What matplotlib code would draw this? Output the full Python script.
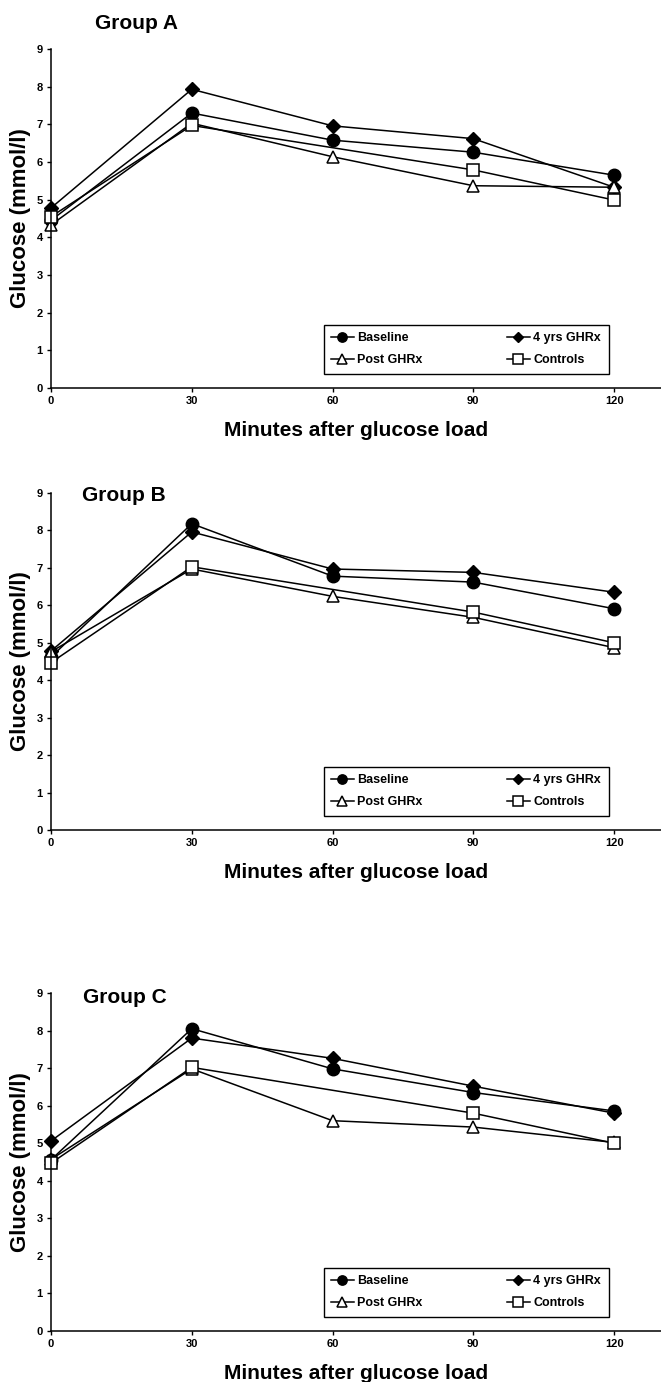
import matplotlib
matplotlib.use("Agg")
import matplotlib.pyplot as plt

plt.rcParams['font.family'] = ['Liberation Sans', 'DejaVu Sans']
plt.rcParams['font.weight'] = 'bold'

# minutes after glucose load
minutes = [0, 30, 60, 90, 120]
minutes_ctrl = [0, 30, 90, 120]   # controls have no 60 min sample

# glucose (mmol/l), one list per group and series
a_baseline = [4.45, 7.30, 6.58, 6.26, 5.65]
a_4yrs = [4.78, 7.93, 6.96, 6.62, 5.33]
a_post = [4.33, 7.03, 6.14, 5.37, 5.33]
a_controls = [4.55, 6.97, 5.79, 4.99]

b_baseline = [4.62, 8.18, 6.78, 6.62, 5.91]
b_4yrs = [4.78, 7.96, 6.97, 6.88, 6.35]
b_post = [4.76, 6.97, 6.24, 5.68, 4.87]
b_controls = [4.47, 7.03, 5.82, 5.00]

c_baseline = [4.56, 8.05, 6.98, 6.35, 5.86]
c_4yrs = [5.06, 7.80, 7.26, 6.52, 5.80]
c_post = [4.57, 6.98, 5.60, 5.43, 5.02]
c_controls = [4.47, 7.02, 5.80, 5.00]

groups = ["Group A", "Group B", "Group C"]
series = [
    (a_baseline, a_4yrs, a_post, a_controls),
    (b_baseline, b_4yrs, b_post, b_controls),
    (c_baseline, c_4yrs, c_post, c_controls),
]

W, H = 661, 1382
fig = plt.figure(figsize=(W / 100, H / 100), dpi=100)

# (top, bottom) of each panel in pixels
panel_px = [(49, 388), (493, 830), (993, 1331)]
title_pos = [(0.072, 1.074), (0.051, 0.994), (0.052, 0.988)]
left, right = 51, 661

for i, (top, bot) in enumerate(panel_px):
    ax = fig.add_axes([left / W, 1 - bot / H, (right - left) / W, (bot - top) / H])
    base, yrs4, post, ctrl = series[i]

    ax.plot(minutes, base, color='black', lw=1.1, marker='o', ms=9,
            mfc='black', mec='black', label='Baseline', clip_on=False)
    ax.plot(minutes, yrs4, color='black', lw=1.1, marker='D', ms=7,
            mfc='black', mec='black', label='4 yrs GHRx', clip_on=False)
    ax.plot(minutes, post, color='black', lw=1.1, marker='^', ms=9,
            mfc='white', mec='black', mew=1.1, label='Post GHRx', clip_on=False)
    ax.plot(minutes_ctrl, ctrl, color='black', lw=1.1, marker='s', ms=9,
            mfc='white', mec='black', mew=1.1, label='Controls', clip_on=False)

    ax.set_xlim(0, 130)
    ax.set_ylim(0, 9)
    ax.set_xticks(minutes)
    ax.set_yticks(range(10))
    ax.spines['top'].set_visible(False)
    ax.spines['right'].set_visible(False)
    ax.spines['left'].set_linewidth(1.1)
    ax.spines['bottom'].set_linewidth(1.1)
    ax.tick_params(direction='out', length=3, width=1, labelsize=8, pad=3)
    for lab in ax.get_xticklabels() + ax.get_yticklabels():
        lab.set_fontweight('bold')

    ax.set_ylabel("Glucose (mmol/l)", fontsize=16, fontweight='bold')
    ax.yaxis.set_label_coords(-0.033, 0.5)
    ax.set_xlabel("Minutes after glucose load", fontsize=15, fontweight='bold')
    ax.xaxis.set_label_coords(0.5, -0.097)

    ax.text(title_pos[i][0], title_pos[i][1], groups[i], transform=ax.transAxes,
            fontsize=15, fontweight='bold', ha='left', va='center')

    h, l = ax.get_legend_handles_labels()
    order = [0, 2, 1, 3]
    leg = ax.legend([h[k] for k in order], [l[k] for k in order], ncol=2,
                    loc='lower left', bbox_to_anchor=(0.447, 0.042, 0.467, 0.148),
                    mode='expand', fancybox=False, framealpha=1, edgecolor='black',
                    fontsize=9, markerscale=0.75, handlelength=1.8,
                    handletextpad=0.3, borderpad=0.6, labelspacing=0.8,
                    borderaxespad=0)
    leg.get_frame().set_linewidth(1.0)
    for t in leg.get_texts():
        t.set_fontweight('bold')

fig.savefig("out.png", dpi=100)
